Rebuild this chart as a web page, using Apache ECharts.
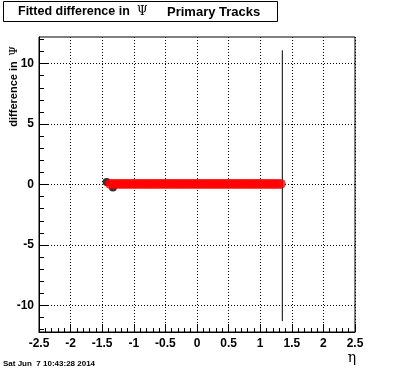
<!DOCTYPE html>
<html><head><meta charset="utf-8">
<script src="https://cdn.jsdelivr.net/npm/echarts@6/dist/echarts.min.js"></script>
<style>html,body{margin:0;padding:0;background:#fff;}#c{width:396px;height:372px;}</style>
</head><body><div id="c"></div>
<script>
// ---- data ----
const xTickLabels = [-2.5, -2, -1.5, -1, -0.5, 0, 0.5, 1, 1.5, 2, 2.5];
const yMajorTicks = [-10, -5, 0, 5, 10];
const redEta = [-1.375,-1.325,-1.275,-1.225,-1.175,-1.125,-1.075,-1.025,-0.975,-0.925,-0.875,-0.825,-0.775,-0.725,-0.675,-0.625,-0.575,-0.525,-0.475,-0.425,-0.375,-0.325,-0.275,-0.225,-0.175,-0.125,-0.075,-0.025,0.025,0.075,0.125,0.175,0.225,0.275,0.325,0.375,0.425,0.475,0.525,0.575,0.625,0.675,0.725,0.775,0.825,0.875,0.925,0.975,1.025,1.075,1.125,1.175,1.225,1.275,1.325];
const redDiff = [0.05,0.05,0.05,0.05,0.05,0.05,0.05,0.05,0.05,0.05,0.05,0.05,0.05,0.05,0.05,0.05,0.05,0.05,0.05,0.05,0.05,0.05,0.05,0.05,0.05,0.05,0.05,0.05,0.05,0.05,0.05,0.05,0.05,0.05,0.05,0.05,0.05,0.05,0.05,0.05,0.05,0.05,0.05,0.05,0.05,0.05,0.05,0.05,0.05,0.05,0.05,0.05,0.05,0.05,0.05];
const blackEta = [-1.43, -1.33];
const blackDiff = [0.2, -0.25];
const errEta = [1.35];
const errLow = [-11.3];
const errHigh = [11.1];

const chart = echarts.init(document.getElementById('c'), null, {renderer:'canvas'});
const font = '"Liberation Sans", Arial, Helvetica, sans-serif';
const yMin = -12.2, yMax = 12.2;
const gTop = 37, gH = 295;
const pxPerUnit = gH / (yMax - yMin);
chart.setOption({
  animation: false,
  backgroundColor: '#fff',
  grid: [
    {left: 39, top: gTop, width: 316, height: gH, show: true, borderColor: '#000', borderWidth: 1},
    {left: 39, top: gTop + (yMax - 12) * pxPerUnit, width: 316, height: 24 * pxPerUnit, show: false}
  ],
  xAxis: [{
    type: 'value', min: -2.5, max: 2.5, interval: 0.5, gridIndex: 0,
    axisLine: {onZero: false, lineStyle: {color: '#000', width: 1}},
    axisTick: {inside: true, length: 8, lineStyle: {color: '#000'}},
    minorTick: {show: true, splitNumber: 5, length: 4, lineStyle: {color: '#000'}},
    splitLine: {show: true, lineStyle: {color: '#000', type: [1, 2], width: 1}},
    axisLabel: {color: '#000', fontFamily: font, fontWeight: 'bold', fontSize: 12, margin: 6,
      showMinLabel: true, showMaxLabel: true,
      formatter: v => { const t = xTickLabels.find(x => Math.abs(x - v) < 1e-6); return t === undefined ? '' : String(t); }}
  }, {
    type: 'value', min: -2.5, max: 2.5, gridIndex: 1, show: false
  }],
  yAxis: [{
    type: 'value', min: yMin, max: yMax, gridIndex: 0,
    axisLine: {show: true, onZero: false, lineStyle: {color: '#000', width: 1}},
    axisTick: {show: true, inside: true, length: 10, customValues: yMajorTicks, lineStyle: {color: '#000'}},
    splitLine: {show: true, lineStyle: {color: '#000', type: [1, 2], width: 1}},
    axisLabel: {color: '#000', fontFamily: font, fontWeight: 'bold', fontSize: 12, margin: 5, customValues: yMajorTicks}
  }, {
    type: 'value', min: -12, max: 12, interval: 1, gridIndex: 1,
    axisLine: {show: true, onZero: false, lineStyle: {color: '#000', width: 1}},
    axisTick: {show: true, inside: true, length: 5, lineStyle: {color: '#000', width: 1}},
    splitLine: {show: false},
    axisLabel: {show: true, inside: true, color: 'rgba(0,0,0,0)', fontSize: 8}
  }],
  series: [
    {type: 'line', xAxisIndex: 1, yAxisIndex: 1, data: [[errEta[0], errLow[0]], [errEta[0], errHigh[0]]],
      symbol: 'none', lineStyle: {color: '#000', width: 1}, z: 1},
    {type: 'scatter', xAxisIndex: 0, yAxisIndex: 0, data: blackEta.map((x, i) => [x, blackDiff[i]]),
      symbol: 'circle', symbolSize: 8, itemStyle: {color: '#000'}, z: 2},
    {type: 'scatter', xAxisIndex: 0, yAxisIndex: 0, data: redEta.map((x, i) => [x, redDiff[i]]),
      symbol: 'circle', symbolSize: 10, itemStyle: {color: '#ff0000'}, z: 3}
  ],
  graphic: [
    {type: 'rect', shape: {x: 3.5, y: 1.5, width: 274, height: 20}, style: {fill: '#fff', stroke: '#000', lineWidth: 1}},
    {type: 'text', x: 18, y: 12, style: {text: 'Fitted difference in', font: 'bold 12.5px ' + font, fill: '#000', textVerticalAlign: 'middle'}},
    {type: 'text', x: 137, y: 12, style: {text: 'Ψ', font: '12px "DejaVu Serif", serif', fill: '#000', textVerticalAlign: 'middle'}},
    {type: 'text', x: 167, y: 12, style: {text: 'Primary Tracks', font: 'bold 13px ' + font, fill: '#000', textVerticalAlign: 'middle'}},
    {type: 'text', x: 14, y: 94, rotation: Math.PI / 2, style: {text: 'difference in', font: 'bold 11px ' + font, fill: '#000', textAlign: 'center', textVerticalAlign: 'middle'}},
    {type: 'text', x: 14, y: 51, rotation: Math.PI / 2, style: {text: 'Ψ', font: '11px "DejaVu Serif", serif', fill: '#000', textAlign: 'center', textVerticalAlign: 'middle'}},
    {type: 'text', x: 352, y: 358, style: {text: 'η', font: '14px "DejaVu Serif", serif', fill: '#000', textAlign: 'center', textVerticalAlign: 'middle'}},
    {type: 'text', x: 3, y: 364, style: {text: 'Sat Jun  7 10:43:28 2014', font: 'bold 8px ' + font, fill: '#000', textVerticalAlign: 'middle'}}
  ]
});
</script></body></html>
